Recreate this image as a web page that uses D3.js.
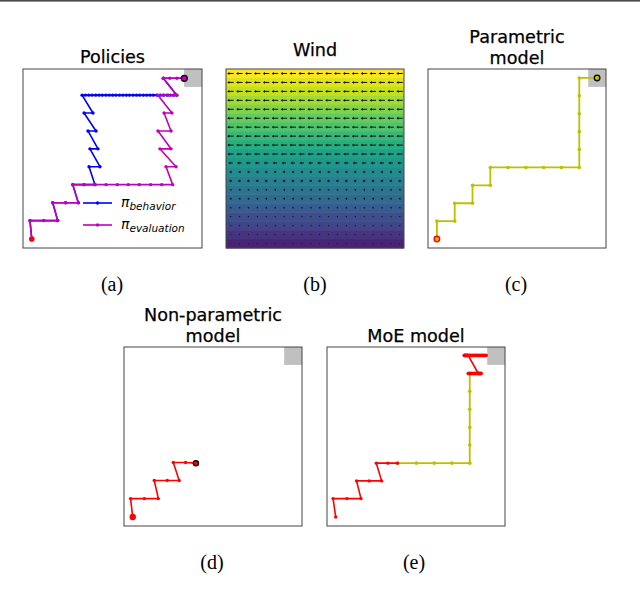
<!DOCTYPE html>
<html>
<head>
<meta charset="utf-8">
<script src="https://cdn.jsdelivr.net/npm/d3@7"></script>
<style>
  html, body { margin: 0; padding: 0; background: #fff; }
  svg { display: block; }
</style>
</head>
<body>
<svg id="fig" width="640" height="607"></svg>
<script>

/* ---- data (grid units, 10 x 10 world, y measured from the bottom) ---- */

// (a) evaluation policy
let evalPath = [
  [0.49, 0.50], [0.39, 1.53], [1.16, 1.53], [1.94, 1.53], [1.66, 2.53],
  [2.38, 2.53], [3.09, 2.53], [2.78, 3.54], [3.41, 3.54], [4.02, 3.54],
  [4.64, 3.54], [5.27, 3.54], [5.88, 3.54], [6.50, 3.54], [7.13, 3.54],
  [7.75, 3.54], [8.36, 3.54], [7.99, 4.54], [8.55, 4.54], [7.65, 5.54],
  [8.27, 5.54], [7.54, 6.54], [8.27, 6.54], [7.88, 7.54], [8.32, 7.54],
  [7.54, 8.54], [7.84, 8.54], [8.12, 8.54], [8.40, 8.54], [8.59, 8.54],
  [7.84, 9.48], [8.20, 9.48], [8.60, 9.48], [9.01, 9.48]
];

// (a) behaviour policy
let behaviorPath = [
  [0.49, 0.50], [0.39, 1.53], [1.16, 1.53], [1.94, 1.53], [1.66, 2.53],
  [2.38, 2.53], [3.09, 2.53], [2.78, 3.54], [3.41, 3.54], [4.02, 3.54],
  [3.69, 4.54], [4.30, 4.54], [3.74, 5.54], [4.19, 5.54], [3.63, 6.54],
  [4.08, 6.54], [3.41, 7.54], [3.91, 7.54],
  [3.30, 8.54], [3.49, 8.54], [3.68, 8.54], [3.86, 8.54], [4.06, 8.54],
  [4.25, 8.54], [4.43, 8.54], [4.63, 8.54], [4.82, 8.54], [5.01, 8.54],
  [5.19, 8.54], [5.39, 8.54], [5.58, 8.54], [5.77, 8.54], [5.95, 8.54],
  [6.15, 8.54], [6.34, 8.54], [6.52, 8.54], [6.72, 8.54], [6.91, 8.54],
  [7.10, 8.54], [7.28, 8.54], [7.48, 8.54], [7.67, 8.54], [7.86, 8.54],
  [8.05, 8.54], [8.24, 8.54], [8.43, 8.54], [8.59, 8.54],
  [7.84, 9.48], [9.01, 9.48]
];

// (b) wind: colour value and arrow length per row (top -> bottom)
let windStrength = [1.00, 0.95, 0.91, 0.86, 0.81, 0.76, 0.72, 0.67, 0.62, 0.57,
                    0.53, 0.48, 0.43, 0.39, 0.34, 0.29, 0.24, 0.20, 0.15, 0.10];
let windArrow = [6.5, 6.5, 6.5, 6.5, 6.5, 6.5, 6.5, 6.5, 6.5, 6.0,
                 4.5, 2.5, 3.0, 2.0, 2.0, 1.8, 1.5, 1.5, 1.2, 1.0];
let windCols = 20;

// (c) parametric model
let paramPath = [
  [0.5, 0.5], [0.5, 1.5], [1.5, 1.5], [1.5, 2.5], [2.5, 2.5], [2.5, 3.5],
  [3.5, 3.5], [3.5, 4.5], [4.5, 4.5], [5.5, 4.5], [6.5, 4.5], [7.5, 4.5],
  [8.5, 4.5], [8.5, 5.5], [8.5, 6.5], [8.5, 7.5], [8.5, 8.5], [8.5, 9.5],
  [9.5, 9.5]
];

// (d) non-parametric model
let nonParamPath = [
  [0.49, 0.50], [0.37, 1.53], [1.14, 1.53], [1.93, 1.53], [1.70, 2.54],
  [2.43, 2.54], [3.10, 2.54], [2.77, 3.55], [3.46, 3.55], [4.04, 3.51]
];

// (e) MoE model: non-parametric start, parametric middle, non-parametric end
let moeStart = [
  [0.49, 0.50], [0.34, 1.53], [1.12, 1.53], [1.91, 1.53], [1.66, 2.52],
  [2.37, 2.52], [3.07, 2.52], [2.77, 3.51], [3.42, 3.51], [3.96, 3.51]
];
let moeMiddle = [
  [3.96, 3.51], [5.02, 3.51], [6.02, 3.51], [7.01, 3.51], [8.02, 3.51],
  [8.02, 4.52], [8.02, 5.51], [8.02, 6.52], [8.02, 7.53], [8.02, 8.52]
];
let moeEnd = [
  [7.93, 8.52], [8.67, 8.52], [8.50, 8.52], [7.93, 9.53], [7.70, 9.53],
  [8.95, 9.53]
];

let titles = {
  a: ["Policies"], b: ["Wind"], c: ["Parametric", "model"],
  d: ["Non-parametric", "model"], e: ["MoE model"]
};
let captions = ["(a)", "(b)", "(c)", "(d)", "(e)"];
let legendLabels = ["behavior", "evaluation"];

/* ---- layout ---- */
let boxes = {
  a: {left: 23, right: 202, top: 69, bottom: 248},
  b: {left: 226, right: 404, top: 69, bottom: 248},
  c: {left: 428, right: 606, top: 69, bottom: 248},
  d: {left: 124, right: 302, top: 347, bottom: 526},
  e: {left: 327, right: 505, top: 347, bottom: 526}
};
let titleBase = {a: [63], b: [56], c: [43, 64], d: [321, 342], e: [342]};
let captionPos = [[112, 291], [315, 291], [516, 291], [212, 569], [414, 569]];

let BLUE = "#0000ff", MAGENTA = "#bf00bf", OLIVE = "#bfbf00", RED = "#ff0000";

let svg = d3.select("#fig");

// top rule of the page
svg.append("rect").attr("x", 0).attr("y", 0).attr("width", 640)
  .attr("height", 1.6).attr("fill", "#4a4a4a");

/* スケール */
function scales(box) {
  return {
    x: d3.scaleLinear().domain([0, 10]).range([box.left, box.right]),
    y: d3.scaleLinear().domain([0, 10]).range([box.bottom, box.top])
  };
}

/* 枠とゴールの灰色セル */
function drawCell(g, s) {
  g.append("rect")
    .attr("x", s.x(9)).attr("y", s.y(10))
    .attr("width", s.x(10) - s.x(9)).attr("height", s.y(9) - s.y(10))
    .attr("fill", "#c0c0c0");
}

function drawFrame(g, box) {
  g.append("rect")
    .attr("x", box.left).attr("y", box.top)
    .attr("width", box.right - box.left).attr("height", box.bottom - box.top)
    .attr("fill", "none").attr("stroke", "#444").attr("stroke-width", 1);
}

/* 軌跡 (線 + 点) */
function drawPath(g, s, pts, color, width = 1.6, r = 1.7) {
  let line = d3.line().x(d => s.x(d[0])).y(d => s.y(d[1]));
  g.append("path").datum(pts)
    .attr("d", line).attr("fill", "none")
    .attr("stroke", color).attr("stroke-width", width)
    .attr("stroke-linejoin", "round");
  g.selectAll(null).data(pts).enter().append("circle")
    .attr("cx", d => s.x(d[0])).attr("cy", d => s.y(d[1]))
    .attr("r", r).attr("fill", color);
}

function drawMarker(g, s, p, r, fill, stroke) {
  g.append("circle")
    .attr("cx", s.x(p[0])).attr("cy", s.y(p[1])).attr("r", r)
    .attr("fill", fill).attr("stroke", stroke).attr("stroke-width", 1.3);
}

function drawTitle(key) {
  let box = boxes[key];
  titles[key].forEach((t, i) => {
    svg.append("text")
      .attr("x", (box.left + box.right) / 2).attr("y", titleBase[key][i])
      .attr("text-anchor", "middle")
      .attr("font-family", "DejaVu Sans").attr("font-size", 17.6)
      .attr("fill", "#000").attr("stroke", "#000").attr("stroke-width", 0.25)
      .text(t);
  });
}

/* ---- (a) Policies ---- */
(function () {
  let box = boxes.a, s = scales(box);
  let g = svg.append("g");
  drawCell(g, s);
  drawPath(g, s, behaviorPath, BLUE);
  drawPath(g, s, evalPath, MAGENTA);
  drawMarker(g, s, evalPath[0], 2.8, RED, "none");
  drawMarker(g, s, evalPath[evalPath.length - 1], 3, MAGENTA, "#000");

  // legend
  [BLUE, MAGENTA].forEach((c, i) => {
    let y = box.top + 134 + i * 22;
    g.append("line").attr("x1", box.left + 60).attr("x2", box.left + 89)
      .attr("y1", y).attr("y2", y).attr("stroke", c).attr("stroke-width", 1.6);
    g.append("circle").attr("cx", box.left + 74.5).attr("cy", y)
      .attr("r", 1.7).attr("fill", c);
    let t = g.append("text").attr("x", box.left + 98).attr("y", y + 4)
      .attr("font-family", "DejaVu Sans").attr("font-style", "italic")
      .attr("fill", "#000");
    t.append("tspan").attr("font-size", 14).text("π");
    t.append("tspan").attr("font-size", 10.5).attr("dy", 3).text(legendLabels[i]);
  });

  drawFrame(g, box);
  drawTitle("a");
})();

/* ---- (b) Wind ---- */
(function () {
  let box = boxes.b;
  let g = svg.append("g");
  let rows = d3.scaleBand().domain(d3.range(windStrength.length))
    .range([box.top, box.bottom]);
  let cols = d3.scaleBand().domain(d3.range(windCols))
    .range([box.left, box.right]);

  g.selectAll(null).data(windStrength).enter().append("rect")
    .attr("x", box.left).attr("y", (d, i) => rows(i))
    .attr("width", box.right - box.left).attr("height", rows.bandwidth() + 0.5)
    .attr("fill", d => d3.interpolateViridis(d));

  windArrow.forEach((len, i) => {
    let cy = rows(i) + rows.bandwidth() / 2;
    d3.range(windCols).forEach(j => {
      let cx = cols(j) + cols.bandwidth() / 2;
      let x0 = cx - len / 2, x1 = cx + len / 2;
      let hl = Math.min(2.2, len), hw = Math.min(1.4, len * 0.6);
      if (len > 2.2) {
        g.append("line").attr("x1", x0 + hl * 0.5).attr("x2", x1)
          .attr("y1", cy).attr("y2", cy)
          .attr("stroke", "#111").attr("stroke-width", 1);
      }
      g.append("path")
        .attr("d", `M${x0},${cy}L${x0 + hl},${cy - hw}L${x0 + hl},${cy + hw}Z`)
        .attr("fill", "#111");
    });
  });

  drawFrame(g, box);
  drawTitle("b");
})();

/* ---- (c) Parametric model ---- */
(function () {
  let box = boxes.c, s = scales(box);
  let g = svg.append("g");
  drawCell(g, s);
  drawPath(g, s, paramPath, OLIVE, 1.8, 1.8);
  drawMarker(g, s, paramPath[0], 2.8, OLIVE, RED);
  drawMarker(g, s, paramPath[paramPath.length - 1], 2.8, OLIVE, "#000");
  drawFrame(g, box);
  drawTitle("c");
})();

/* ---- (d) Non-parametric model ---- */
(function () {
  let box = boxes.d, s = scales(box);
  let g = svg.append("g");
  drawCell(g, s);
  drawPath(g, s, nonParamPath, RED);
  drawMarker(g, s, nonParamPath[0], 3.2, RED, "none");
  drawMarker(g, s, nonParamPath[nonParamPath.length - 1], 2.6, RED, "#000");
  drawFrame(g, box);
  drawTitle("d");
})();

/* ---- (e) MoE model ---- */
(function () {
  let box = boxes.e, s = scales(box);
  let g = svg.append("g");
  drawCell(g, s);
  drawPath(g, s, moeMiddle, OLIVE, 1.8, 1.8);
  drawPath(g, s, moeStart, RED);
  drawPath(g, s, moeEnd, RED);
  // overlapping steps on the same row look like a thick bar
  for (let i = 1; i < moeEnd.length; i++) {
    let p = moeEnd[i - 1], q = moeEnd[i];
    if (p[1] === q[1]) {
      g.append("line")
        .attr("x1", s.x(p[0])).attr("x2", s.x(q[0]))
        .attr("y1", s.y(p[1])).attr("y2", s.y(q[1]))
        .attr("stroke", RED).attr("stroke-width", 3.6);
    }
  }
  drawFrame(g, box);
  drawTitle("e");
})();

/* ---- captions ---- */
svg.selectAll("text.cap").data(captions).enter().append("text")
  .attr("class", "cap")
  .attr("x", (d, i) => captionPos[i][0]).attr("y", (d, i) => captionPos[i][1])
  .attr("text-anchor", "middle")
  .attr("font-family", "Liberation Serif").attr("font-size", 20)
  .attr("fill", "#000").text(d => d);

</script>
</body>
</html>
